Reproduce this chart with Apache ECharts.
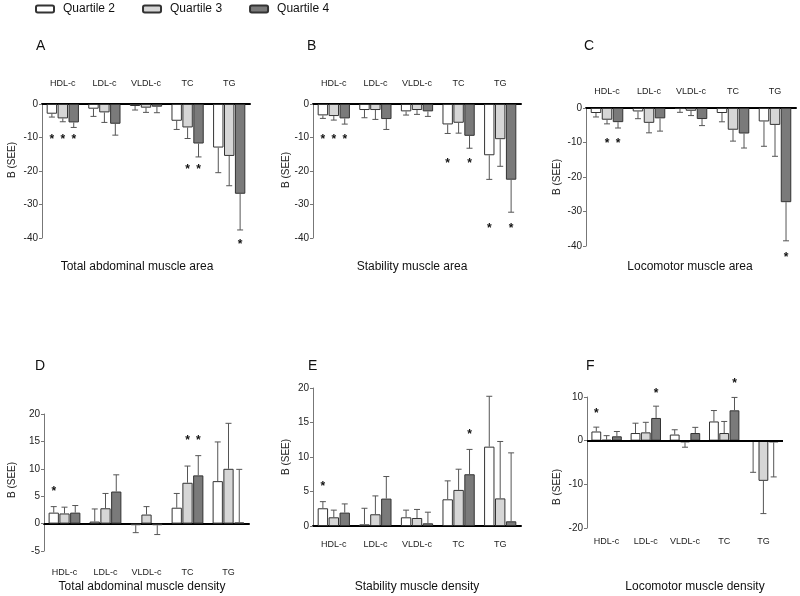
<!DOCTYPE html>
<html><head><meta charset="utf-8">
<script src="https://cdn.jsdelivr.net/npm/echarts@6/dist/echarts.min.js"></script>
<style>html,body{margin:0;padding:0;background:#fff}#c{width:800px;height:596px}</style>
</head><body><div id="c"></div>
<script>
// ---------- DATA ----------
const categories = ['HDL-c', 'LDL-c', 'VLDL-c', 'TC', 'TG'];
const quartiles = ['Quartile 2', 'Quartile 3', 'Quartile 4'];

// Panel A: Total abdominal muscle area  (B and SE)
const aQ2 = [-2.9, -1.4, -0.6, -5.0, -13.0];
const aQ3 = [-4.3, -2.5, -1.1, -7.0, -15.5];
const aQ4 = [-5.5, -5.9, -0.8, -11.8, -26.8];
const aSE2 = [1.0, 2.3, 1.2, 2.6, 7.5];
const aSE3 = [1.0, 3.0, 1.4, 3.3, 8.9];
const aSE4 = [1.5, 3.4, 1.8, 4.0, 10.8];
const aStars = [[0, 0, -9.9], [0, 1, -9.9], [0, 2, -9.9], [3, 1, -18.6], [3, 2, -18.6], [4, 2, -41]];

// Panel B: Stability muscle area
const bQ2 = [-3.4, -1.8, -2.2, -6.1, -15.3];
const bQ3 = [-3.6, -1.8, -1.8, -5.6, -10.5];
const bQ4 = [-4.3, -4.5, -2.2, -9.5, -22.6];
const bSE2 = [0.9, 2.3, 1.1, 2.7, 7.2];
const bSE3 = [1.2, 2.8, 1.3, 3.1, 8.1];
const bSE4 = [1.7, 3.1, 1.5, 3.7, 9.7];
const bStars = [[0, 0, -9.8], [0, 1, -9.8], [0, 2, -9.8], [3, 0, -16.8], [3, 2, -16.8], [4, 0, -36.3], [4, 2, -36.3]];

// Panel C: Locomotor muscle area
const cQ2 = [-1.45, -1.0, -0.3, -1.45, -3.9];
const cQ3 = [-3.4, -4.3, -0.8, -6.3, -4.9];
const cQ4 = [-4.1, -3.0, -3.2, -7.4, -27.3];
const cSE2 = [1.15, 2.1, 0.95, 2.55, 7.2];
const cSE3 = [1.2, 2.9, 1.4, 3.3, 9.1];
const cSE4 = [1.7, 3.7, 1.9, 4.2, 11.2];
const cStars = [[0, 1, -9.4], [0, 2, -9.4], [4, 2, -42.4]];

// Panel D: Total abdominal muscle density
const dQ2 = [2.0, 0.37, -0.3, 2.9, 7.75];
const dQ3 = [1.85, 2.8, 1.65, 7.45, 10.0];
const dQ4 = [2.0, 5.85, -0.3, 8.8, 0.2];
const dSE2 = [1.1, 2.3, 1.35, 2.6, 7.15];
const dSE3 = [1.15, 2.7, 1.45, 3.05, 8.3];
const dSE4 = [1.3, 3.05, 1.7, 3.6, 9.7];
const dStars = [[0, 0, 6.3], [3, 1, 15.75], [3, 2, 15.75]];

// Panel E: Stability muscle density
const eQ2 = [2.57, 0.24, 1.26, 3.87, 11.5];
const eQ3 = [1.26, 1.7, 1.16, 5.23, 4.0];
const eQ4 = [1.94, 3.97, 0.39, 7.5, 0.68];
const eSE2 = [0.96, 2.33, 1.04, 2.67, 7.3];
const eSE3 = [1.04, 2.66, 1.24, 3.0, 8.25];
const eSE4 = [1.26, 3.2, 1.61, 3.6, 9.92];
const eStars = [[0, 0, 6.1], [3, 2, 13.7]];

// Panel F: Locomotor muscle density
const fQ2 = [2.1, 1.75, 1.4, 4.4, -0.2];
const fQ3 = [0.2, 1.9, -0.4, 1.75, -9.2];
const fQ4 = [1.0, 5.2, 1.75, 6.95, -0.4];
const fSE2 = [1.0, 2.25, 1.1, 2.5, 7.05];
const fSE3 = [0.95, 2.3, 1.1, 2.65, 7.5];
const fSE4 = [1.1, 2.7, 1.3, 2.95, 7.9];
const fStars = [[0, 0, 6.9], [1, 2, 11.5], [3, 2, 13.7]];

const panelLetters = ['A', 'B', 'C', 'D', 'E', 'F'];
const panelTitles = ['Total abdominal muscle area', 'Stability muscle area', 'Locomotor muscle area',
  'Total abdominal muscle density', 'Stability muscle density', 'Locomotor muscle density'];
const yAxisName = 'B (SEE)';

// ---------- LAYOUT ----------
const panelData = [
  { v: [aQ2, aQ3, aQ4], se: [aSE2, aSE3, aSE4], stars: aStars },
  { v: [bQ2, bQ3, bQ4], se: [bSE2, bSE3, bSE4], stars: bStars },
  { v: [cQ2, cQ3, cQ4], se: [cSE2, cSE3, cSE4], stars: cStars },
  { v: [dQ2, dQ3, dQ4], se: [dSE2, dSE3, dSE4], stars: dStars },
  { v: [eQ2, eQ3, eQ4], se: [eSE2, eSE3, eSE4], stars: eStars },
  { v: [fQ2, fQ3, fQ4], se: [fSE2, fSE3, fSE4], stars: fStars }
];
const layout = [
  { grid: { left: 42, top: 104, width: 208, height: 134 }, min: -40, max: 0, interval: 10, xPos: 'top', xMargin: 16, onZero: true,
    letter: [42, 47], title: [137, 267], yName: [12, 160] },
  { grid: { left: 313, top: 104, width: 208, height: 134 }, min: -40, max: 0, interval: 10, xPos: 'top', xMargin: 16, onZero: true,
    letter: [313, 47], title: [412, 267], yName: [286, 170] },
  { grid: { left: 586, top: 108, width: 210, height: 138 }, min: -40, max: 0, interval: 10, xPos: 'top', xMargin: 12, onZero: true,
    letter: [590, 47], title: [690, 267], yName: [557, 177] },
  { grid: { left: 44, top: 414, width: 205, height: 137 }, min: -5, max: 20, interval: 5, xPos: 'bottom', xMargin: 17, onZero: true,
    letter: [41, 367], title: [142, 587], yName: [12, 480] },
  { grid: { left: 313, top: 388, width: 208, height: 138 }, min: 0, max: 20, interval: 5, xPos: 'bottom', xMargin: 14, onZero: true,
    letter: [314, 367], title: [417, 587], yName: [286, 457] },
  { grid: { left: 587, top: 397, width: 196, height: 131 }, min: -20, max: 10, interval: 10, xPos: 'bottom', xMargin: 9, onZero: false,
    letter: [592, 367], title: [695, 587], yName: [557, 487] }
];

const FONT = '"Liberation Sans", Arial, sans-serif';
const fills = ['#ffffff', '#d6d6d6', '#7a7a7a'];
const BAR_FRAC = 0.25, GAP_FRAC = 0.05;

function errRender(params, api) {
  const cat = api.value(0), q = api.value(1), v = api.value(2), se = api.value(3);
  const end = v + (v < 0 ? -se : se);
  const band = api.size([1, 0])[0];
  const bw = band * BAR_FRAC, gap = bw * GAP_FRAC;
  const x = api.coord([cat, v])[0] + (q - 1) * (bw + gap);
  const y0 = api.coord([cat, v])[1], y1 = api.coord([cat, end])[1];
  return { type: 'group', children: [
    { type: 'line', shape: { x1: x, y1: y0, x2: x, y2: y1 }, style: { stroke: '#555', lineWidth: 1 } },
    { type: 'line', shape: { x1: x - 3, y1: y1, x2: x + 3, y2: y1 }, style: { stroke: '#555', lineWidth: 1 } }
  ] };
}
function starRender(params, api) {
  const cat = api.value(0), q = api.value(1), y = api.value(2);
  const band = api.size([1, 0])[0];
  const bw = band * BAR_FRAC, gap = bw * GAP_FRAC;
  const p = api.coord([cat, y]);
  return { type: 'text', x: p[0] + (q - 1) * (bw + gap), y: p[1] + 3,
    style: { text: '*', fill: '#111', font: 'bold 12px ' + FONT, align: 'center', verticalAlign: 'middle' } };
}

const grids = [], xAxes = [], yAxes = [], series = [], graphics = [];
layout.forEach((L, p) => {
  grids.push(Object.assign({ containLabel: false }, L.grid));
  xAxes.push({
    type: 'category', gridIndex: p, data: categories, position: L.xPos,
    axisLine: { show: L.onZero, onZero: L.onZero, lineStyle: { color: '#000', width: 2 } },
    axisTick: { show: false },
    axisLabel: { color: '#222', fontSize: 9, fontFamily: FONT, margin: L.xMargin, interval: 0 }
  });
  yAxes.push({
    type: 'value', gridIndex: p, min: L.min, max: L.max, interval: L.interval,
    axisLine: { show: true, lineStyle: { color: '#777', width: 1 } },
    axisTick: { show: true, length: 3, lineStyle: { color: '#777' } },
    splitLine: { show: false },
    axisLabel: { color: '#222', fontSize: 10, fontFamily: FONT, margin: 4 }
  });
  const D = panelData[p];
  for (let q = 0; q < 3; q++) {
    const s = {
      type: 'bar', name: quartiles[q], xAxisIndex: p, yAxisIndex: p, data: D.v[q],
      barWidth: (BAR_FRAC * 100) + '%', barGap: (GAP_FRAC * 100) + '%',
      itemStyle: { color: fills[q], borderColor: '#333', borderWidth: 1 },
      emphasis: { disabled: true }, animation: false
    };
    if (p === 5 && q === 0) {
      s.markLine = { silent: true, symbol: 'none', animation: false,
        data: [{ yAxis: 0 }], label: { show: false },
        lineStyle: { color: '#000', width: 2, type: 'solid' } };
    }
    series.push(s);
  }
  const errData = [];
  for (let q = 0; q < 3; q++) for (let c = 0; c < categories.length; c++) errData.push([c, q, D.v[q][c], D.se[q][c]]);
  series.push({ type: 'custom', xAxisIndex: p, yAxisIndex: p, renderItem: errRender, data: errData,
    encode: { x: 0, y: 2 }, z: 3, clip: false, animation: false, silent: true });
  series.push({ type: 'custom', xAxisIndex: p, yAxisIndex: p, renderItem: starRender, data: D.stars,
    encode: { x: 0, y: 2 }, z: 4, clip: false, animation: false, silent: true });

  graphics.push({ type: 'text', left: L.letter[0] - 6, top: L.letter[1] - 8,
    style: { text: panelLetters[p], font: '14px ' + FONT, fill: '#111' } });
  graphics.push({ type: 'text', x: L.title[0], y: L.title[1],
    style: { text: panelTitles[p], font: '12px ' + FONT, fill: '#111', align: 'center', verticalAlign: 'middle' } });
  graphics.push({ type: 'text', x: L.yName[0], y: L.yName[1], rotation: Math.PI / 2,
    style: { text: yAxisName, font: '10px ' + FONT, fill: '#222', align: 'center', verticalAlign: 'middle' } });
});

const chart = echarts.init(document.getElementById('c'), null, { renderer: 'canvas' });
chart.setOption({
  backgroundColor: '#fff',
  animation: false,
  legend: {
    data: quartiles, left: 35, top: 3, padding: 0, itemWidth: 18, itemHeight: 7, itemGap: 27,
    textStyle: { fontSize: 12, fontFamily: FONT, color: '#111', padding: [0, 0, 0, 4] },
    selectedMode: false
  },
  grid: grids, xAxis: xAxes, yAxis: yAxes, series: series, graphic: graphics
});
</script>
</body></html>
